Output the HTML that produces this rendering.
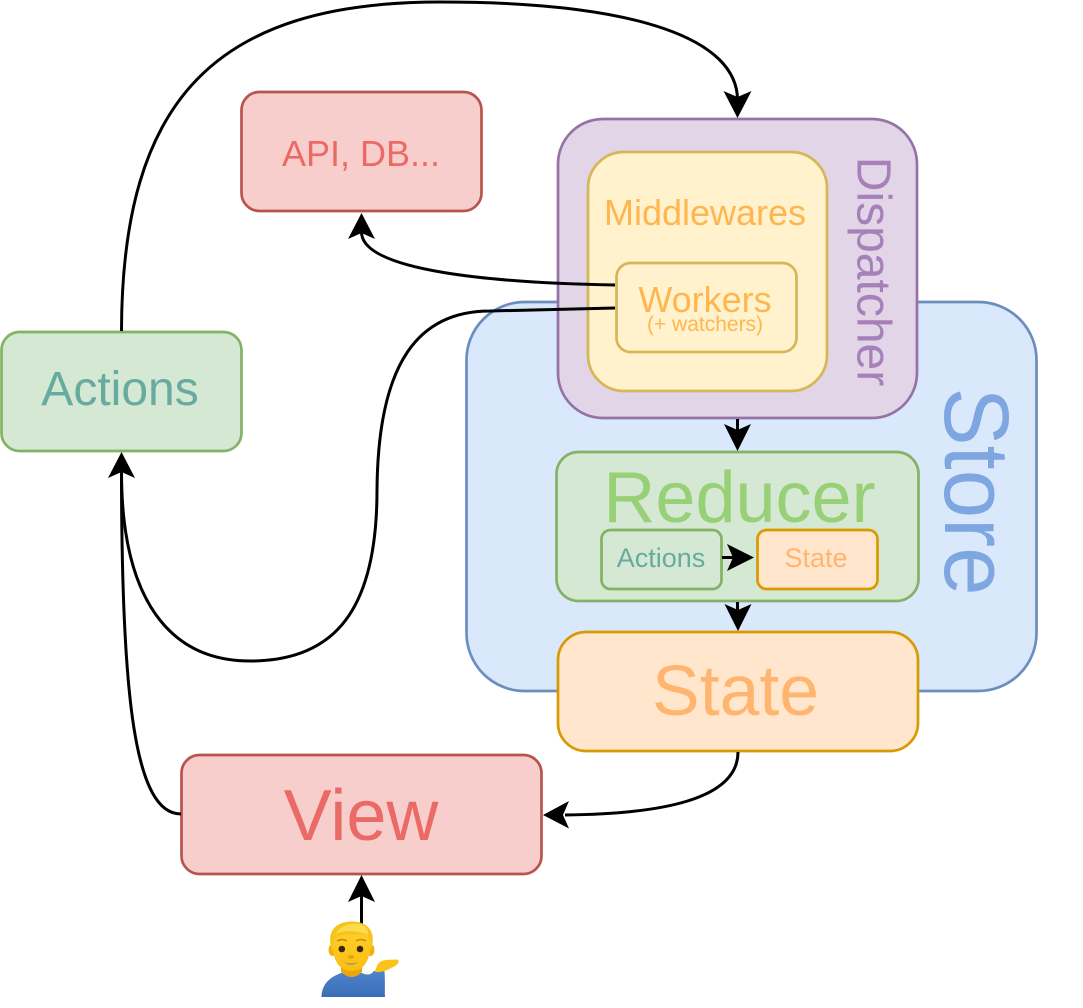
<!DOCTYPE html>
<html><head><meta charset="utf-8"><style>
html,body{margin:0;padding:0;background:#fff;width:1083px;height:1008px;overflow:hidden}
svg{display:block}
text{font-family:"Liberation Sans",Arial,sans-serif;text-anchor:middle}
</style></head><body>
<svg width="1083" height="1008" viewBox="0 0 1083 1008" xmlns="http://www.w3.org/2000/svg">
<defs>
<linearGradient id="skin" x1="0" y1="0" x2="0" y2="1"><stop offset="0" stop-color="#ffd22e"/><stop offset="1" stop-color="#fbbe12"/></linearGradient>
<linearGradient id="shirt" x1="0" y1="0" x2="0" y2="1"><stop offset="0" stop-color="#4f86cf"/><stop offset="1" stop-color="#3a6db5"/></linearGradient>
</defs>
<g stroke-width="2.7">
<rect x="466.5" y="302" width="570" height="389" rx="58" fill="#dae8fc" stroke="#6c8ebf"/>
<rect x="558" y="119" width="359" height="299" rx="45" fill="#e1d5e7" stroke="#9673a6"/>
<rect x="588" y="152" width="239" height="239" rx="36" fill="#fff2cc" stroke="#d6b656"/>
<rect x="616.5" y="263" width="180" height="89" rx="14" fill="#fff2cc" stroke="#d6b656"/>
<rect x="241.5" y="92" width="240" height="119" rx="18" fill="#f8cecc" stroke="#b85450"/>
<rect x="1.5" y="332" width="240" height="119" rx="18" fill="#d5e8d4" stroke="#82b366"/>
<rect x="556.5" y="452" width="362" height="149" rx="22" fill="#d5e8d4" stroke="#82b366"/>
<rect x="601.5" y="530" width="120" height="59" rx="9" fill="#d5e8d4" stroke="#82b366"/>
<rect x="757.5" y="530" width="120" height="59" rx="9" fill="#ffe6cc" stroke="#d79b00"/>
<rect x="558" y="632" width="360" height="119" rx="28" fill="#ffe6cc" stroke="#d79b00"/>
<rect x="181.5" y="755" width="360" height="119" rx="18" fill="#f8cecc" stroke="#b85450"/>
</g>
<g fill="none" stroke="#000" stroke-width="3">
<path d="M121.500 331 C122 100 215 2 440 2 C640 2 737.500 40 737.500 100"/>
<path d="M615 285 C500 283 361.500 272 361.500 232"/>
<path d="M615 308 L490 311 C420 311 378 360 377 490 C377 610 335 661 250 661 C170 661 121.500 600 121.500 472"/>
<path d="M181 814 C135 814 121.500 700 121.500 472"/>
<path d="M738 752 C738 800 660 814 565 815"/>
<path d="M737.500 419 L737.500 430"/>
<path d="M737.500 602 L737.500 610"/>
<path d="M722 557.500 L735 557.500"/>
<path d="M361.500 925 L361.500 895"/>
</g>
<g fill="#000">
<path d="M737.500 118 l-14 -27 l14 6 l14 -6 z"/>
<path d="M361.500 213 l-13.500 26 l13.500 -6 l13.500 6 z"/>
<path d="M121.500 452 l-13.500 26 l13.500 -6 l13.500 6 z"/>
<path d="M543 815 l26 -14 l-6 14 l6 13.500 z"/>
<path d="M737.500 451 l-13.500 -27 l13.500 6 l13.500 -6 z"/>
<path d="M738 631 l-13.500 -27 l13.500 6 l13.500 -6 z"/>
<path d="M754 557.500 l-27 -13.500 l6 13.500 l-6 13.500 z"/>
<path d="M361.500 875 l-13.500 27 l13.500 -6 l13.500 6 z"/>
</g>
<text x="361" y="166" font-size="36" fill="#ea6b66">API, DB...</text>
<text x="120" y="405" font-size="48" fill="#67ab9f">Actions</text>
<text x="705" y="225" font-size="36" fill="#ffb650">Middlewares</text>
<text x="705" y="312" font-size="36" fill="#ffb650">Workers</text>
<text x="705" y="331" font-size="21" fill="#ffb650">(+ watchers)</text>
<text x="739.500" y="522" font-size="72" fill="#97d077">Reducer</text>
<text x="661" y="567" font-size="27" fill="#67ab9f">Actions</text>
<text x="816" y="567" font-size="27" fill="#ffb570">State</text>
<text x="735.500" y="715" font-size="71.500" fill="#ffb570">State</text>
<text x="361" y="840" font-size="72" fill="#ea6b66">View</text>
<text transform="translate(857.500,271.500) rotate(90)" font-size="48" fill="#a680b8">Dispatcher</text>
<text transform="translate(945,491.500) rotate(90)" font-size="92" fill="#7ea6e0" textLength="208" lengthAdjust="spacingAndGlyphs">Store</text>
<!-- person -->
<g>
<path d="M321.500 997 C322 985 328 978 341 973 L362 973 C367 975.500 371 975 374 971 L384 968.500 C385.500 975 384.500 990 385 997 Z" fill="url(#shirt)"/>
<path d="M341 960 L362 960 L362 972 Q352 982 341 972 Z" fill="#eda50c"/>
<ellipse cx="332.500" cy="950" rx="4" ry="6" fill="#f5b010"/>
<ellipse cx="370.500" cy="950" rx="4" ry="6" fill="#f5b010"/>
<path d="M332 940 C332 928 340 924 351.500 924 C363 924 371 928 371 940 C371 958 365 971 351.500 971 C338 971 332 958 332 940 Z" fill="url(#skin)"/>
<path d="M332 950 C326 932 335 922 351 921.500 C368 921 377 932 371 950 C370 942 369 938 367 934 C358 936 344 932 336 937 C334 941 333 945 332 950 Z" fill="#f7c41c"/>
<path d="M336 934 C339 926 350 923 358 924 C366 925 369 930 368 934 C358 932 345 929 336 934 Z" fill="#fbdb4e"/>
<path d="M337 941 Q342 938 347 941 M356 941 Q361 938 366 941" fill="none" stroke="#c98a12" stroke-width="1.500"/>
<circle cx="341.800" cy="949" r="3.300" fill="#3a2a12"/>
<circle cx="360" cy="949" r="3.300" fill="#3a2a12"/>
<ellipse cx="351" cy="957" rx="3" ry="2" fill="#e9a20f"/>
<path d="M344 962 Q351 965 358 962 Q351 967.500 344 962 Z" fill="#8f8f7a"/>
<path d="M375 972 C376 968 377 964 380 962 C384 959 392 960 398 959.500 C400 962 397 965 393 967 C388 970 381 973 375 972 Z" fill="#fcc21b"/>
</g>
</svg>
</body></html>
